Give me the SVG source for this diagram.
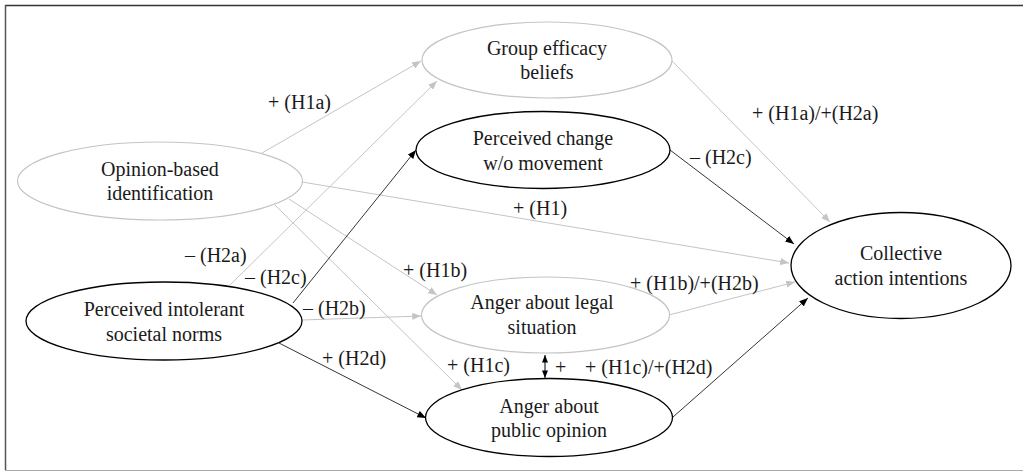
<svg xmlns="http://www.w3.org/2000/svg" width="1023" height="472" viewBox="0 0 1023 472">
<style>
text{font-family:'Liberation Serif','Tinos','Times New Roman','DejaVu Serif',serif;font-size:20px;fill:#1a1a1a}
.n{text-anchor:middle}
.eg{fill:#fff;stroke:#c4c4c4;stroke-width:1.2}
.eb{fill:#fff;stroke:#000;stroke-width:1.3}
.cg{stroke:#c4c4c4;stroke-width:1;fill:none;marker-end:url(#ag)}
.cb{stroke:#000;stroke-width:0.8;fill:none;marker-end:url(#ab)}
</style>
<defs>
<marker id="ag" viewBox="0 0 10 8" refX="10" refY="4" markerWidth="9" markerHeight="7" markerUnits="userSpaceOnUse" orient="auto"><path d="M0,0 L10,4 L0,8 z" fill="#c4c4c4"/></marker>
<marker id="ab" viewBox="0 0 10 8" refX="10" refY="4" markerWidth="9" markerHeight="7" markerUnits="userSpaceOnUse" orient="auto"><path d="M0,0 L10,4 L0,8 z" fill="#000"/></marker>
<marker id="abs" viewBox="0 0 10 8" refX="10" refY="4" markerWidth="8" markerHeight="6" markerUnits="userSpaceOnUse" orient="auto-start-reverse"><path d="M0,0 L10,4 L0,8 z" fill="#000"/></marker>
</defs>
<rect width="1023" height="472" fill="#fff"/>
<g id="frame">
<line x1="5" y1="5.5" x2="1023" y2="5.5" stroke="#333" stroke-width="1.5"/>
<line x1="5.5" y1="5" x2="5.5" y2="470" stroke="#555" stroke-width="1.5"/>
<line x1="5" y1="470.5" x2="1023" y2="470.5" stroke="#aaa" stroke-width="1.2"/>
</g>
<g id="connectors">
<line class="cg" x1="262" y1="153" x2="421" y2="61"/>
<line class="cg" x1="230" y1="285" x2="437" y2="81"/>
<line class="cg" x1="302" y1="182" x2="789" y2="263"/>
<line class="cg" x1="289" y1="199" x2="437" y2="295"/>
<line class="cg" x1="275" y1="205" x2="462" y2="390"/>
<line class="cg" x1="302" y1="320" x2="421" y2="316"/>
<line class="cg" x1="672" y1="61" x2="830" y2="222"/>
<line class="cg" x1="669" y1="315" x2="795" y2="282"/>
<line class="cb" x1="293" y1="303" x2="416" y2="150"/>
<line class="cb" x1="279" y1="343" x2="426" y2="418"/>
<line class="cb" x1="670" y1="150" x2="794" y2="244"/>
<line class="cb" x1="673" y1="417" x2="808" y2="298"/>
<line x1="545" y1="355" x2="545" y2="378" stroke="#000" stroke-width="1" marker-start="url(#abs)" marker-end="url(#abs)"/>
<text x="268" y="109">+ (H1a)</text>
<text x="185" y="262">– (H2a)</text>
<text x="245" y="284">– (H2c)</text>
<text x="303" y="315">– (H2b)</text>
<text x="322" y="365">+ (H2d)</text>
<text x="403" y="277">+ (H1b)</text>
<text x="447" y="372">+ (H1c)</text>
<text x="555" y="374">+</text>
<text x="585" y="374">+ (H1c)/+(H2d)</text>
<text x="630" y="290">+ (H1b)/+(H2b)</text>
<text x="513" y="215">+ (H1)</text>
<text x="690" y="164">– (H2c)</text>
<text x="752" y="120">+ (H1a)/+(H2a)</text>
</g>
<g id="group-efficacy"><ellipse class="eg" cx="547" cy="60" rx="125" ry="38"/><text class="n" x="547" y="55">Group efficacy</text><text class="n" x="547" y="79">beliefs</text></g>
<g id="perceived-change"><ellipse class="eb" cx="543" cy="150" rx="127" ry="38.5"/><text class="n" x="543" y="145">Perceived change</text><text class="n" x="543" y="170">w/o movement</text></g>
<g id="opinion-based"><ellipse class="eg" cx="160" cy="181" rx="142.5" ry="39"/><text class="n" x="160" y="176">Opinion-based</text><text class="n" x="160" y="200">identification</text></g>
<g id="intolerant-norms"><ellipse class="eb" cx="164" cy="321" rx="138" ry="39"/><text class="n" x="164" y="316">Perceived intolerant</text><text class="n" x="164" y="341">societal norms</text></g>
<g id="anger-legal"><ellipse class="eg" cx="545.5" cy="315" rx="124" ry="38"/><text class="n" x="542" y="309">Anger about legal</text><text class="n" x="542" y="334">situation</text></g>
<g id="anger-public"><ellipse class="eb" cx="549" cy="417.5" rx="123.5" ry="39"/><text class="n" x="549" y="413">Anger about</text><text class="n" x="549" y="437">public opinion</text></g>
<g id="collective"><ellipse class="eb" cx="901" cy="265.5" rx="110" ry="53"/><text class="n" x="901" y="260">Collective</text><text class="n" x="901" y="285">action intentions</text></g>
</svg>
